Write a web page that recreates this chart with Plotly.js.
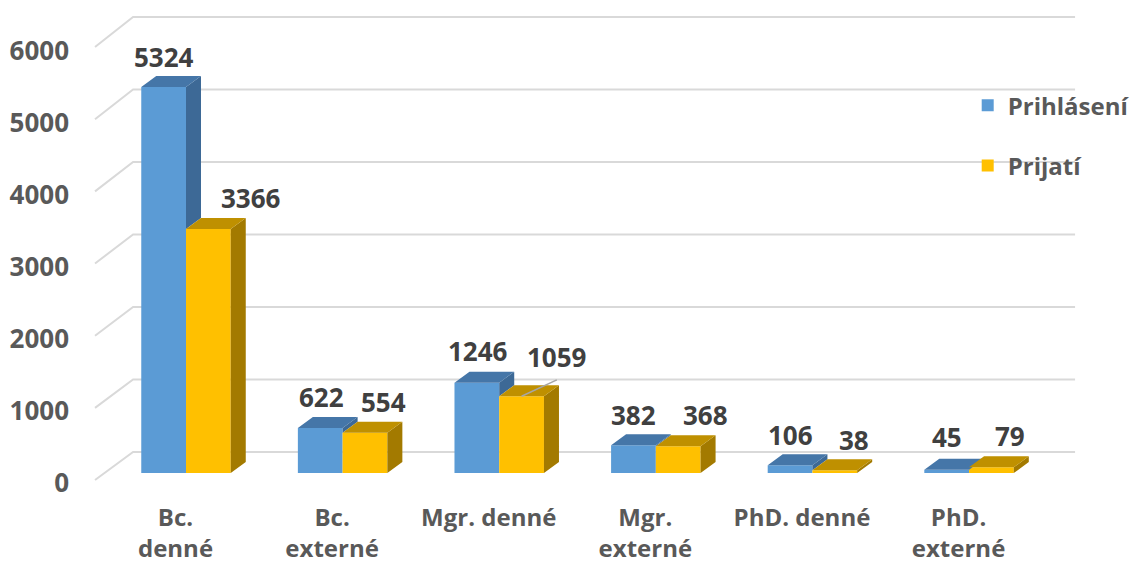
<!DOCTYPE html>
<html>
<head>
<meta charset="utf-8">
<script src="https://cdn.plot.ly/plotly-3.0.1.min.js"></script>
<style>
  html, body { margin: 0; padding: 0; background: #ffffff; }
  #chart { width: 1134px; height: 565px; }
</style>
</head>
<body>
<div id="chart"></div>
<script>
// ---- data ----
const categories = ['Bc.<br>denné', 'Bc.<br>externé', 'Mgr. denné', 'Mgr.<br>externé', 'PhD. denné', 'PhD.<br>externé'];
const prihlaseni = [5324, 622, 1246, 382, 106, 45];
const prijati = [3366, 554, 1059, 368, 38, 79];
const yTicks = [0, 1000, 2000, 3000, 4000, 5000, 6000];
const seriesNames = ['Prihlásení', 'Prijatí'];

// ---- style / geometry ----
const W = 0.2857;        // bar width (category units)
const DX = 0.0958;       // 3D depth shift in x (category units)
const DY = 152;          // 3D depth shift in y (value units)
const blueFront = '#5B9BD5', blueTop = '#4576A8', blueSide = '#3D6996';
const yelFront = '#FFC000', yelTop = '#BF9000', yelSide = '#A37A00';
const fontFam = '"Open Sans", "Noto Sans", sans-serif';
const blueXShift = [0, 1, 1, 0, 0, 0];
const blueYShift = [30, 31, 32, 30, 30, 33];
const yelXShift = [43, 19, 0, 27, 19, 19];
const yelYShift = [31, 31, 0, 31, 30, 31];
const leaderIdx = 2;     // label drawn with a leader line

const idx = categories.map((c, i) => i);

function polys(list) {
  const x = [], y = [];
  list.forEach(p => { p.forEach(pt => { x.push(pt[0]); y.push(pt[1]); }); x.push(null); y.push(null); });
  return {x, y};
}
function faceTrace(list, color) {
  const p = polys(list);
  return {type: 'scatter', mode: 'lines', x: p.x, y: p.y, fill: 'toself', fillcolor: color,
          line: {width: 0, color: color}, hoverinfo: 'skip', showlegend: false};
}

const blueSides = [], blueTops = [], yelSides = [], yelTops = [];
idx.forEach(i => {
  const b = prihlaseni[i], v = prijati[i];
  if (b > v) blueSides.push([[i, v], [i, b], [i + DX, b + DY], [i + DX, v + DY]]);
  blueTops.push([[i - W, b], [i - W + DX, b + DY], [i + DX, b + DY], [i, b]]);
  yelSides.push([[i + W, 0], [i + W, v], [i + W + DX, v + DY], [i + W + DX, DY]]);
  yelTops.push([[i, v], [i + DX, v + DY], [i + W + DX, v + DY], [i + W, v]]);
});

const traces = [
  {type: 'bar', x: idx, y: prihlaseni, name: seriesNames[0], offset: -W, width: W,
   marker: {color: blueFront, line: {width: 0}}, legendgroup: 'a', hoverinfo: 'skip'},
  {type: 'bar', x: idx, y: prijati, name: seriesNames[1], offset: 0, width: W,
   marker: {color: yelFront, line: {width: 0}}, legendgroup: 'b', hoverinfo: 'skip'},
  faceTrace(blueSides, blueSide),
  faceTrace(blueTops, blueTop),
  faceTrace(yelSides, yelSide),
  faceTrace(yelTops, yelTop)
];

// perspective gridlines (front edge -> back wall -> right)
const shapes = yTicks.map(v => ({
  type: 'path', xref: 'x', yref: 'y', layer: 'below',
  path: 'M ' + (-0.581) + ' ' + (v * 0.9955 - 97) + ' L ' + (-0.338) + ' ' + (v + 290) + ' L 5.677 ' + (v + 290),
  line: {color: '#D9D9D9', width: 2}
}));
shapes.push({
  type: 'line', xref: 'x', yref: 'y', layer: 'above',
  x0: leaderIdx + W / 2, y0: prijati[leaderIdx],
  x1: leaderIdx + W / 2 + 0.225, y1: prijati[leaderIdx] + 225,
  line: {color: '#A6A6A6', width: 1.5}
});

const labelFont = {family: fontFam, size: 26, color: '#404040', weight: 'bold'};
const annotations = [];
idx.forEach(i => {
  annotations.push({x: i - W / 2, y: prihlaseni[i], xref: 'x', yref: 'y', text: String(prihlaseni[i]),
    showarrow: false, xshift: blueXShift[i], yshift: blueYShift[i], yanchor: 'middle', font: labelFont});
  if (i === leaderIdx) {
    annotations.push({x: i + W / 2 + 0.225, y: prijati[i] + 225, xref: 'x', yref: 'y', text: String(prijati[i]),
      showarrow: false, xshift: 0, yshift: 23, yanchor: 'middle', font: labelFont});
  } else {
    annotations.push({x: i + W / 2, y: prijati[i], xref: 'x', yref: 'y', text: String(prijati[i]),
      showarrow: false, xshift: yelXShift[i], yshift: yelYShift[i], yanchor: 'middle', font: labelFont});
  }
});

const layout = {
  width: 1134, height: 565,
  margin: {l: 90, r: 50, t: 10, b: 75, autoexpand: false},
  paper_bgcolor: '#ffffff', plot_bgcolor: 'rgba(0,0,0,0)',
  barmode: 'overlay',
  showlegend: true,
  legend: {x: 0.883, y: 0.8475, xanchor: 'left', yanchor: 'top', bgcolor: 'rgba(0,0,0,0)',
           traceorder: 'grouped', tracegroupgap: 26,
           font: {family: fontFam, size: 24, color: '#595959', weight: 'bold'}},
  xaxis: {range: [-0.613, 5.734], tickvals: idx.map(i => i - 0.067), ticktext: categories,
          showgrid: false, zeroline: false, showline: false, ticks: '', ticklabelstandoff: 11,
          automargin: false,
          tickfont: {family: fontFam, size: 24, color: '#595959', weight: 'bold'}, fixedrange: true},
  yaxis: {range: [-234.5, 6386.5], tickvals: yTicks.map(v => v * 0.993 - 132), ticktext: yTicks.map(String),
          showgrid: false, zeroline: false, showline: false, ticks: '', ticklabelstandoff: 20,
          automargin: false,
          tickfont: {family: fontFam, size: 26, color: '#595959', weight: 'bold'}, fixedrange: true},
  shapes: shapes,
  annotations: annotations
};

Plotly.newPlot('chart', traces, layout, {displayModeBar: false, staticPlot: true});
</script>
</body>
</html>
